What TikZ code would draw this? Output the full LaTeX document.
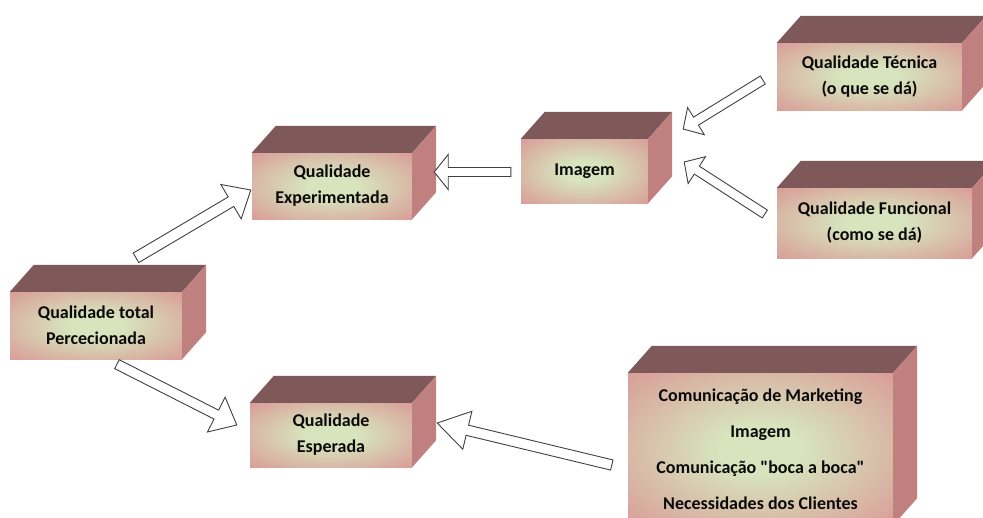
\documentclass[tikz,border=0pt]{standalone}
\usepackage{fontspec}
\setmainfont{Carlito}
\usetikzlibrary{calc}

\definecolor{boxpink}{RGB}{217,150,148}
\definecolor{boxmid}{RGB}{215,228,189}
\definecolor{boxtop}{RGB}{127,89,89}
\definecolor{boxside}{RGB}{192,128,128}
\definecolor{boxtext}{RGB}{10,10,10}
\pgfdeclareradialshading{boxglow}{\pgfpointorigin}{color(0bp)=(boxmid); color(8bp)=(boxmid); color(38bp)=(boxpink); color(50bp)=(boxpink)}

\begin{document}
\begin{tikzpicture}[x=1pt, y=-1pt,
    box/.style={rectangle, shading=boxglow, align=center, text=boxtext, inner sep=0pt,
      font=\bfseries\fontsize{18}{26}\selectfont},
    topface/.style={fill=boxtop},
    sideface/.style={fill=boxside},
    blockarrow/.style={draw=black!75, fill=white, line width=0.9pt}]
    \useasboundingbox (0,0) rectangle (983,517);

    % front faces
    \node[box, minimum width=172, minimum height=67] (total) at (96,325.5) {Qualidade total\\Percecionada};
    \node[box, minimum width=160, minimum height=66] (exper) at (332,186) {Qualidade\\Experimentada};
    \node[box, minimum width=162, minimum height=64] (esper) at (331,435) {Qualidade\\Esperada};
    \node[box, minimum width=127, minimum height=64] (imagem) at (584.5,171) {Imagem};
    \node[box, minimum width=185, minimum height=67] (tecnica) at (869.5,76.5) {Qualidade Técnica\\(o que se dá)};
    \node[box, minimum width=195, minimum height=70] (funcional) at (874.5,223) {Qualidade Funcional\\(como se dá)};
    \node[box, minimum width=265, minimum height=152, font=\bfseries\fontsize{18}{36}\selectfont] (fontes) at (760.5,449)
        {Comunicação de Marketing\\Imagem\\Comunicação \textquotedbl boca a boca\textquotedbl\\Necessidades dos Clientes};

    % top and side faces
    \foreach \b in {total,exper,esper,imagem,tecnica,funcional,fontes} {
        \fill[topface] (\b.north west) -- ++(24,-27) -- ([shift={(24,-27)}]\b.north east) -- (\b.north east) -- cycle;
        \fill[sideface] (\b.north east) -- ++(24,-27) -- ([shift={(24,-27)}]\b.south east) -- (\b.south east) -- cycle;
    }

    % arrow ends
    \coordinate (a1s) at ([shift={(40,-34)}]total.north);
    \coordinate (a1t) at ([shift={(-1,4)}]exper.west);
    \coordinate (a2s) at ([shift={(21,5)}]total.south);
    \coordinate (a2t) at ([shift={(-13,-10)}]esper.west);
    \coordinate (a3s) at ([shift={(-10,1)}]imagem.west);
    \coordinate (a3t) at ([shift={(22,-14)}]exper.east);
    \coordinate (a4s) at ([shift={(-14,3.5)}]tecnica.west);
    \coordinate (a4t) at ([shift={(35,-42)}]imagem.east);
    \coordinate (a5s) at ([shift={(-12,-9)}]funcional.west);
    \coordinate (a5t) at ([shift={(36,-9)}]imagem.east);
    \coordinate (a6s) at ([shift={(-16,16)}]fontes.west);
    \coordinate (a6t) at ([shift={(25,-12)}]esper.east);

    % block arrows: tail/tip/head length/head half width/shaft half width
    \foreach \s/\t/\hl/\hw/\sw in {a1s/a1t/23pt/20pt/5.5pt, a2s/a2t/23pt/19.5pt/5pt,
            a3s/a3t/14pt/17.5pt/4.5pt, a4s/a4t/15pt/16pt/4.7pt,
            a5s/a5t/15pt/16pt/4.7pt, a6s/a6t/31pt/19.5pt/5.2pt} {
        \coordinate (hb) at ($(\t)!\hl!(\s)$);
        \draw[blockarrow] ($(\s)!\sw!90:(\t)$) -- ($(hb)!\sw!90:(\t)$) -- ($(hb)!\hw!90:(\t)$)
            -- (\t) -- ($(hb)!\hw!-90:(\t)$) -- ($(hb)!\sw!-90:(\t)$) -- ($(\s)!\sw!-90:(\t)$) -- cycle;
    }
\end{tikzpicture}
\end{document}
